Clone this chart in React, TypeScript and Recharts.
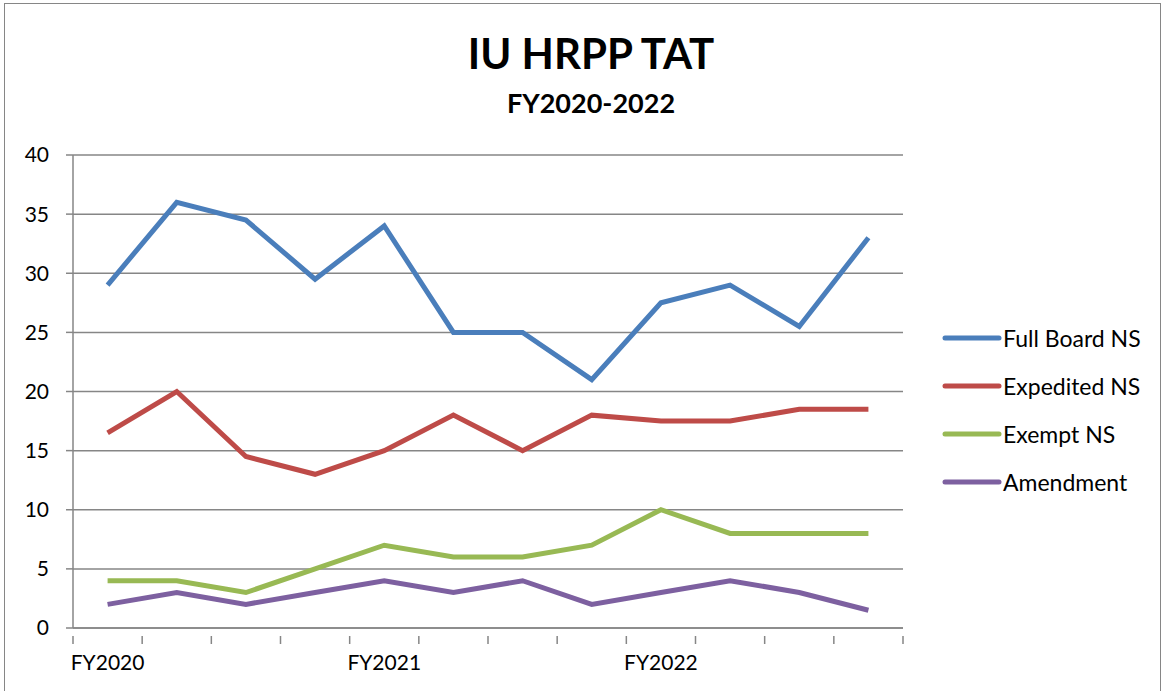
import { LineChart, Line, XAxis, YAxis, CartesianGrid, Legend } from "recharts";

const periods = ["FY2020", "", "", "", "FY2021", "", "", "", "FY2022", "", "", ""];
const fullBoard = [29, 36, 34.5, 29.5, 34, 25, 25, 21, 27.5, 29, 25.5, 33];
const expedited = [16.5, 20, 14.5, 13, 15, 18, 15, 18, 17.5, 17.5, 18.5, 18.5];
const exempt = [4, 4, 3, 5, 7, 6, 6, 7, 10, 8, 8, 8];
const amendment = [2, 3, 2, 3, 4, 3, 4, 2, 3, 4, 3, 1.5];
const yTicks = [0, 5, 10, 15, 20, 25, 30, 35, 40];

const series = [
  { name: "Full Board NS", values: fullBoard, color: "#4A7EBB" },
  { name: "Expedited NS", values: expedited, color: "#BE4B48" },
  { name: "Exempt NS", values: exempt, color: "#98B954" },
  { name: "Amendment", values: amendment, color: "#7D60A0" },
];

const data = periods.map((p, i) => {
  const row: Record<string, number | string> = { idx: i, period: p };
  series.forEach((s) => (row[s.name] = s.values[i]));
  return row;
});

// tick marks sit on category boundaries, labels on category centres
const boundaries = periods.map((_, i) => i - 0.5).concat([periods.length - 0.5]);
const labelTicks = periods.map((p, i) => (p ? i : null)).filter((v) => v !== null) as number[];
const xTicks = [...boundaries, ...labelTicks].sort((a, b) => a - b);

const FONT = "Lato, 'Open Sans', sans-serif";
const GRID = "#868686";

function XTick(props: any) {
  const { x, y, payload } = props;
  const v = payload.value as number;
  if (Number.isInteger(v)) {
    return (
      <text x={x} y={y} dy={34} textAnchor="middle" fontSize={21} fill="#000" fontFamily={FONT}>
        {periods[v]}
      </text>
    );
  }
  return <line x1={x} y1={y} x2={x} y2={y + 8} stroke={GRID} strokeWidth={1.5} />;
}

function LegendContent() {
  return (
    <div style={{ fontFamily: FONT, fontSize: 23, color: "#000" }}>
      {series.map((s) => (
        <div key={s.name} style={{ display: "flex", alignItems: "center", height: 48 }}>
          <svg width={60} height={10}>
            <line x1={3} y1={5} x2={57} y2={5} stroke={s.color} strokeWidth={5} strokeLinecap="round" />
          </svg>
          <span style={{ marginLeft: 1, whiteSpace: "nowrap" }}>{s.name}</span>
        </div>
      ))}
    </div>
  );
}

export default function App() {
  return (
    <div style={{ position: "absolute", left: 0, top: 0, width: 1164, height: 691, background: "#fff", overflow: "hidden" }}>
      <div style={{ position: "absolute", left: 4, top: 3, width: 1155, height: 700, border: "1.5px solid #868686" }} />
      <div style={{ position: "absolute", left: 0, top: 28, width: 1182, textAlign: "center", fontFamily: FONT, fontWeight: 700, fontSize: 42 }}>
        IU HRPP TAT
      </div>
      <div style={{ position: "absolute", left: 0, top: 86, width: 1182, textAlign: "center", fontFamily: FONT, fontWeight: 700, fontSize: 27 }}>
        FY2020-2022
      </div>
      <div style={{ position: "absolute", left: 0, top: 0 }}>
        <LineChart width={1164} height={691} data={data} margin={{ top: 155, right: 261, bottom: 0, left: 0 }}>
          <CartesianGrid vertical={false} stroke={GRID} strokeWidth={1.5} />
          <XAxis
            dataKey="idx"
            type="number"
            domain={[-0.5, periods.length - 0.5]}
            ticks={xTicks}
            interval={0}
            tick={<XTick />}
            tickLine={false}
            axisLine={{ stroke: GRID, strokeWidth: 1.5 }}
            height={63}
          />
          <YAxis
            domain={[0, 40]}
            ticks={yTicks}
            interval={0}
            width={73}
            tickSize={7}
            tickMargin={17}
            tickLine={{ stroke: GRID, strokeWidth: 1.5 }}
            axisLine={{ stroke: GRID, strokeWidth: 1.5 }}
            tick={{ fontSize: 21, fill: "#000", fontFamily: FONT }}
          />
          <Legend
            layout="vertical"
            align="center"
            verticalAlign="middle"
            content={<LegendContent />}
            wrapperStyle={{ left: 942, top: 314, width: 222 }}
          />
          {series.map((s) => (
            <Line
              key={s.name}
              type="linear"
              dataKey={s.name}
              stroke={s.color}
              strokeWidth={5}
              dot={false}
              isAnimationActive={false}
            />
          ))}
        </LineChart>
      </div>
    </div>
  );
}
